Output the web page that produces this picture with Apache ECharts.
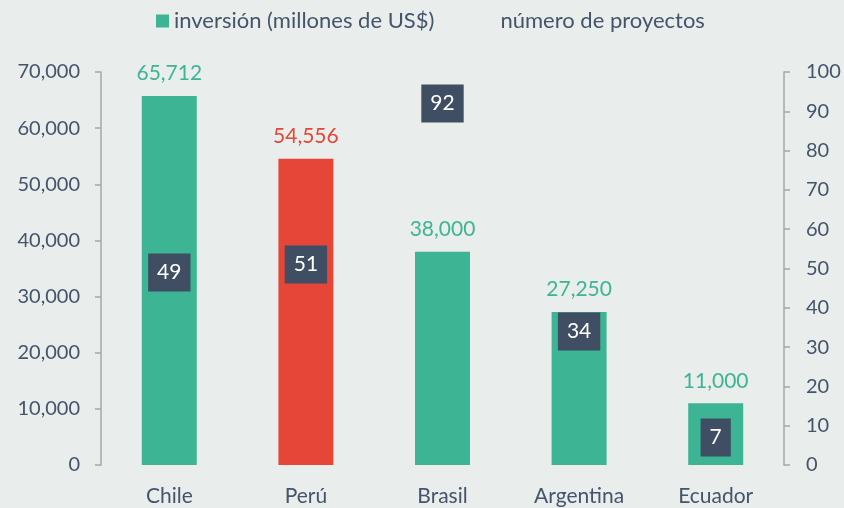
<!DOCTYPE html>
<html>
<head>
<meta charset="utf-8">
<script src="https://cdn.jsdelivr.net/npm/echarts@6/dist/echarts.min.js"></script>
<style>
  html, body { margin: 0; padding: 0; background: #e9edec; }
  #chart { width: 844px; height: 508px; }
</style>
</head>
<body>
<div id="chart"></div>
<script>
// data
var countries = ['Chile', 'Perú', 'Brasil', 'Argentina', 'Ecuador'];
var inversion = [65712, 54556, 38000, 27250, 11000];
var proyectos = [49, 51, 92, 34, 7];
var highlight = 'Perú';

var GREEN = '#3db594';
var RED = '#e54637';
var TEXT = '#44546a';
var BOX = '#3f4e62';
var AXIS = '#a6a6a6';

var chart = echarts.init(document.getElementById('chart'));

var barData = inversion.map(function (v, i) {
  var c = countries[i] === highlight ? RED : GREEN;
  return { value: v, itemStyle: { color: c }, label: { color: c } };
});

chart.setOption({
  backgroundColor: '#e9edec',
  textStyle: { fontFamily: 'Lato' },
  legend: {
    left: 151,
    top: 5,
    itemWidth: 13,
    itemHeight: 13,
    itemGap: 48,
    textStyle: { color: TEXT, fontSize: 22, fontFamily: 'Lato' },
    data: [
      { name: 'inversión (millones de US$)', icon: 'rect' },
      { name: 'número de proyectos', icon: 'rect', itemStyle: { color: 'rgba(0,0,0,0)' } }
    ]
  },
  grid: { left: 101, right: 60, top: 72, bottom: 43, containLabel: false, outerBoundsMode: 'none' },
  xAxis: {
    type: 'category',
    data: countries,
    axisLine: { show: false },
    axisTick: { show: false },
    axisLabel: { color: TEXT, fontSize: 21, margin: 21 }
  },
  yAxis: [
    {
      type: 'value',
      min: 0, max: 70000, interval: 10000,
      splitLine: { show: false },
      axisLine: { show: true, lineStyle: { color: AXIS, width: 1.5 } },
      axisTick: { show: true, length: 6, lineStyle: { color: AXIS, width: 1.5 } },
      axisLabel: {
        color: TEXT, fontSize: 20, margin: 21,
        formatter: function (v) { return v.toLocaleString('en-US'); }
      }
    },
    {
      type: 'value',
      min: 0, max: 100, interval: 10,
      splitLine: { show: false },
      axisLine: { show: true, lineStyle: { color: AXIS, width: 1.5 } },
      axisTick: { show: true, length: 6, lineStyle: { color: AXIS, width: 1.5 } },
      axisLabel: { color: TEXT, fontSize: 20, margin: 22 }
    }
  ],
  series: [
    {
      name: 'inversión (millones de US$)',
      type: 'bar',
      barWidth: 55,
      itemStyle: { color: GREEN },
      label: {
        show: true,
        position: 'top',
        distance: 12,
        fontSize: 21,
        formatter: function (p) { return p.value.toLocaleString('en-US'); }
      },
      data: barData
    },
    {
      name: 'número de proyectos',
      type: 'scatter',
      yAxisIndex: 1,
      symbolSize: 1,
      itemStyle: { color: 'rgba(0,0,0,0)', opacity: 1 },
      emphasis: { disabled: true },
      label: {
        show: true,
        position: 'inside',
        color: '#ffffff',
        fontSize: 21,
        lineHeight: 20,
        backgroundColor: BOX,
        padding: [9, 9]
      },
      z: 5,
      data: proyectos
    }
  ]
});
</script>
</body>
</html>
